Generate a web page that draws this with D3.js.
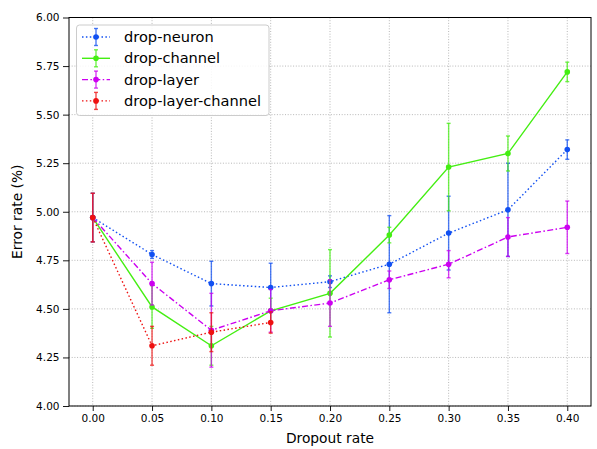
<!DOCTYPE html>
<html>
<head>
<meta charset="utf-8">
<script src="https://cdn.jsdelivr.net/npm/d3@7"></script>
<style>
  html, body { margin: 0; padding: 0; background: #fff; }
  svg { display: block; font-family: "DejaVu Sans", sans-serif; }
</style>
</head>
<body>
<svg id="chart" width="597" height="449"></svg>
<script>
// ---- data ----
const dropoutRates = [0.00, 0.05, 0.10, 0.15, 0.20, 0.25, 0.30, 0.35, 0.40];
const dropNeuron      = [4.97, 4.78, 4.63, 4.61, 4.64, 4.73, 4.89, 5.01, 5.32];
const dropNeuronErr   = [0.125, 0.02, 0.115, 0.125, 0.03, 0.25, 0.19, 0.24, 0.05];
const dropChannel     = [4.97, 4.51, 4.31, 4.49, 4.58, 4.88, 5.23, 5.30, 5.72];
const dropChannelErr  = [0.125, 0.11, 0.10, 0.065, 0.225, 0.04, 0.225, 0.09, 0.05];
const dropLayer       = [4.97, 4.63, 4.39, 4.49, 4.53, 4.65, 4.73, 4.87, 4.92];
const dropLayerErr    = [0.125, 0.11, 0.19, 0.11, 0.12, 0.045, 0.07, 0.10, 0.135];
const dropLayerChannel    = [4.97, 4.31, 4.38, 4.43];
const dropLayerChannelErr = [0.125, 0.10, 0.10, 0.055];
const xTicks = [0.00, 0.05, 0.10, 0.15, 0.20, 0.25, 0.30, 0.35, 0.40];
const yTicks = [4.00, 4.25, 4.50, 4.75, 5.00, 5.25, 5.50, 5.75, 6.00];
const seriesNames = ["drop-neuron", "drop-channel", "drop-layer", "drop-layer-channel"];

const series = [
  { name: seriesNames[0], y: dropNeuron, e: dropNeuronErr, color: "#1150f2", dash: "1.5,2.4" },
  { name: seriesNames[1], y: dropChannel, e: dropChannelErr, color: "#44ee12", dash: null },
  { name: seriesNames[2], y: dropLayer, e: dropLayerErr, color: "#cc00f0", dash: "6,2.4,1.5,2.4" },
  { name: seriesNames[3], y: dropLayerChannel, e: dropLayerChannelErr, color: "#ee1111", dash: "1.5,2.4" }
];

// ---- layout ----
const svg = d3.select("#chart");
const L = 69, R = 591, T = 17.5, B = 406;
const x = d3.scaleLinear().domain([-0.02, 0.42]).range([L, R]);
const y = d3.scaleLinear().domain([4, 6]).range([B, T]);

// grid
const grid = svg.append("g");
grid.selectAll(".gx").data(xTicks).enter().append("line")
  .attr("x1", d => x(d)).attr("x2", d => x(d)).attr("y1", T).attr("y2", B)
  .attr("stroke", "#b0b0b0").attr("stroke-width", 0.9).attr("stroke-dasharray", "1,1.7");
grid.selectAll(".gy").data(yTicks).enter().append("line")
  .attr("y1", d => y(d)).attr("y2", d => y(d)).attr("x1", L).attr("x2", R)
  .attr("stroke", "#b0b0b0").attr("stroke-width", 0.9).attr("stroke-dasharray", "1,1.7");

// axes
const xAxis = d3.axisBottom(x).tickValues(xTicks).tickFormat(d3.format(".2f")).tickSize(5).tickPadding(4);
const yAxis = d3.axisLeft(y).tickValues(yTicks).tickFormat(d3.format(".2f")).tickSize(6).tickPadding(3.5);
const gx = svg.append("g").attr("transform", `translate(0,${B})`).call(xAxis);
const gy = svg.append("g").attr("transform", `translate(${L},0)`).call(yAxis);
[gx, gy].forEach(g => {
  g.select(".domain").remove();
  g.selectAll("line").attr("stroke", "#000").attr("stroke-width", 0.9);
  g.selectAll("text").attr("font-size", "10.5px").attr("fill", "#000")
    .attr("font-family", "DejaVu Sans, sans-serif");
});

// series
const lineGen = d3.line().x(d => x(d[0])).y(d => y(d[1]));
const plot = svg.append("g");
series.forEach(s => {
  const pts = s.y.map((v, i) => [dropoutRates[i], v, s.e[i]]);
  const g = plot.append("g");
  // error bars
  const eb = g.append("g").attr("stroke", s.color).attr("stroke-opacity", 0.75).attr("stroke-width", 1.4);
  eb.selectAll(".v").data(pts).enter().append("line")
    .attr("x1", d => x(d[0])).attr("x2", d => x(d[0]))
    .attr("y1", d => y(d[1] - d[2])).attr("y2", d => y(d[1] + d[2]));
  eb.selectAll(".ct").data(pts).enter().append("line")
    .attr("x1", d => x(d[0]) - 2).attr("x2", d => x(d[0]) + 2)
    .attr("y1", d => y(d[1] + d[2])).attr("y2", d => y(d[1] + d[2]));
  eb.selectAll(".cb").data(pts).enter().append("line")
    .attr("x1", d => x(d[0]) - 2).attr("x2", d => x(d[0]) + 2)
    .attr("y1", d => y(d[1] - d[2])).attr("y2", d => y(d[1] - d[2]));
  // line
  g.append("path").datum(pts).attr("d", lineGen).attr("fill", "none")
    .attr("stroke", s.color).attr("stroke-width", 1.4)
    .attr("stroke-dasharray", s.dash);
  // markers
  g.selectAll("circle").data(pts).enter().append("circle")
    .attr("cx", d => x(d[0])).attr("cy", d => y(d[1])).attr("r", 2.8)
    .attr("fill", s.color);
});

// spines
svg.append("rect").attr("x", L).attr("y", T).attr("width", R - L).attr("height", B - T)
  .attr("fill", "none").attr("stroke", "#000").attr("stroke-width", 1);

// axis labels
svg.append("text").attr("x", (L + R) / 2).attr("y", 443).attr("text-anchor", "middle")
  .attr("font-size", "13.8px").text("Dropout rate");
svg.append("text").attr("transform", `translate(22,${(T + B) / 2}) rotate(-90)`)
  .attr("text-anchor", "middle").attr("font-size", "13.8px").text("Error rate (%)");

// legend
const lg = svg.append("g");
lg.append("rect").attr("x", 76.5).attr("y", 25).attr("width", 192.5).attr("height", 90.5)
  .attr("rx", 3).attr("fill", "#fff").attr("fill-opacity", 0.85)
  .attr("stroke", "#cccccc").attr("stroke-width", 1);
series.forEach((s, i) => {
  const cy = 37 + i * 21.3;
  const row = lg.append("g");
  row.append("line").attr("x1", 82).attr("x2", 110).attr("y1", cy).attr("y2", cy)
    .attr("stroke", s.color).attr("stroke-width", 1.4).attr("stroke-dasharray", s.dash);
  const eb = row.append("g").attr("stroke", s.color).attr("stroke-opacity", 0.75).attr("stroke-width", 1.4);
  eb.append("line").attr("x1", 96).attr("x2", 96).attr("y1", cy - 8.5).attr("y2", cy + 8.5);
  eb.append("line").attr("x1", 94).attr("x2", 98).attr("y1", cy - 8.5).attr("y2", cy - 8.5);
  eb.append("line").attr("x1", 94).attr("x2", 98).attr("y1", cy + 8.5).attr("y2", cy + 8.5);
  row.append("circle").attr("cx", 96).attr("cy", cy).attr("r", 2.8).attr("fill", s.color);
  row.append("text").attr("x", 124).attr("y", cy + 5).attr("font-size", "14.6px").text(s.name);
});
</script>
</body>
</html>
